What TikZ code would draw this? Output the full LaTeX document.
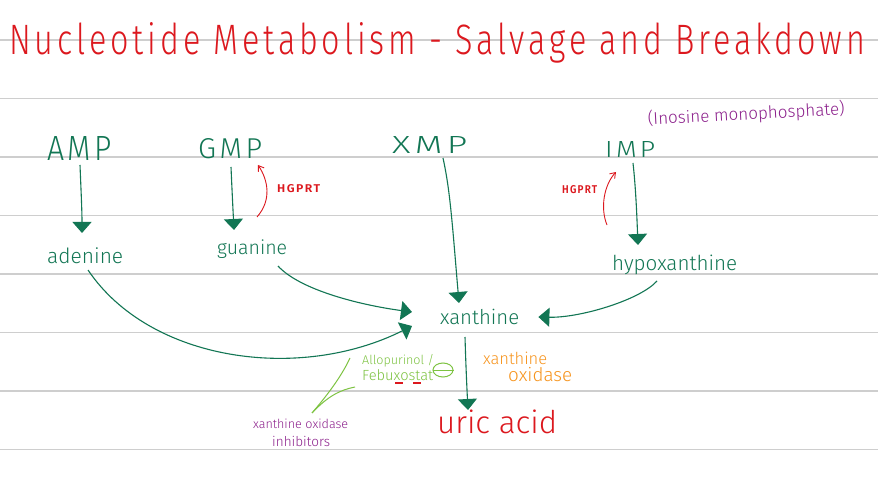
\documentclass[tikz,border=0pt]{standalone}
\usepackage{fontspec}
\setmainfont{Fira Sans}
\newfontfamily\hand{Fira Sans Light}[LetterSpace=12]
\newfontfamily\handl{Fira Sans Light}[LetterSpace=0]
\usetikzlibrary{arrows.meta,shapes.geometric}
\definecolor{ink}{RGB}{18,118,84}
\definecolor{redink}{RGB}{220,24,30}
\definecolor{purp}{RGB}{140,32,140}
\definecolor{lgreen}{RGB}{125,195,65}
\definecolor{orng}{RGB}{247,148,29}
\definecolor{rulegray}{RGB}{206,206,206}
\newcommand\fitw[2]{\resizebox{#1}{!}{\handl #2}}
\newcommand\fitwh[3]{\resizebox{#1}{#2}{\hand #3}}
\begin{document}
\begin{tikzpicture}[x=1pt,y=-1pt,
  lbl/.style={inner sep=0pt, anchor=base west},
  gl/.style={lbl, text=ink},
  garrow/.style={draw=ink, line width=1.1pt, -{Triangle[width=19pt,length=11pt]}},
  rarrow/.style={draw=redink, line width=0.9pt, -{Straight Barb[width=7pt,length=5pt]}},
  inh/.style={draw=lgreen, line width=1pt}]
\useasboundingbox[fill=white] (0,0) rectangle (878,497);
\foreach \yy in {40,98.5,157,215.5,274,332.5,391,449.5}
  \draw[rulegray, line width=1.6pt] (0,\yy) -- (878,\yy);

% title
\node[lbl, text=redink] (title) at (9,55) {\fitwh{856pt}{32pt}{Nucleotide Metabolism - Salvage and Breakdown}};

% nucleotides
\node[gl] (AMP) at (47,161) {\fitwh{65pt}{24pt}{AMP}};
\node[gl] (GMP) at (198,159) {\fitwh{64pt}{20pt}{GMP}};
\node[gl] (XMP) at (392,154) {\fitwh{75pt}{17pt}{XMP}};
\node[gl] (IMP) at (605,158) {\fitwh{50pt}{16pt}{IMP}};
\node[lbl, text=purp, rotate=3] (inosine) at (648,125) {\fitw{197pt}{(Inosine monophosphate)}};

% bases
\node[gl] (adenine) at (47,263) {\fitw{76pt}{adenine}};
\node[gl] (guanine) at (217,254) {\fitw{70pt}{guanine}};
\node[gl] (hypox) at (612,271) {\fitw{125pt}{hypoxanthine}};
\node[gl] (xanthine) at (440,324) {\fitw{79pt}{xanthine}};
\node[lbl, text=redink] (uric) at (437,433) {\fitw{120pt}{uric acid}};

% enzymes
\node[lbl, text=redink] (hgprtG) at (277,193) {\fitwh{43pt}{8pt}{\bfseries HGPRT}};
\node[lbl, text=redink] (hgprtI) at (562,194) {\fitwh{35pt}{8pt}{\bfseries HGPRT}};
\node[lbl, text=orng] (xo1) at (483,364) {\fitw{64pt}{xanthine}};
\node[lbl, text=orng] (xo2) at (508,381) {\fitw{64pt}{oxidase}};

% inhibitors
\node[lbl, text=lgreen] (allo) at (362,364) {\fitw{72pt}{Allopurinol /}};
\node[lbl, text=lgreen] (febu) at (362,380) {\fitw{71pt}{Febuxostat}};
\node[draw=lgreen, line width=1pt, ellipse, minimum width=20pt, minimum height=14pt, inner sep=0pt] (minus) at (443,370) {};
\draw[lgreen, line width=1pt] (minus.west) -- (minus.east);
\draw[redink, line width=1.2pt] (395,383) -- (403,383) (413,383) -- (421,383);
\node[lbl, text=purp] (xoi1) at (253,428) {\fitw{95pt}{xanthine oxidase}};
\node[lbl, text=purp] (xoi2) at (272,446) {\fitw{58pt}{inhibitors}};
\coordinate (vtx) at (312,413);
\draw[inh] (vtx) .. controls (330,392) and (342,375) .. ([shift={(-12pt,6pt)}]allo.base west);
\draw[inh] (vtx) .. controls (328,396) and (340,390) .. ([shift={(-7pt,-7pt)}]febu.base west);

% conversions
\draw[garrow] ([shift={(33pt,-4pt)}]AMP.base west) .. controls (81,190) and (82,210) .. ([shift={(35pt,30pt)}]adenine.base west);
\draw[garrow] ([shift={(33pt,-8pt)}]GMP.base west) .. controls (232,190) and (233,210) .. ([shift={(17pt,24pt)}]guanine.base west);
\draw[rarrow] ([shift={(40pt,37pt)}]guanine.base west) .. controls (272,200) and (268,180) .. ([shift={(60pt,-6pt)}]GMP.base west);
\draw[garrow] ([shift={(51pt,-4pt)}]XMP.base west) .. controls (450,190) and (452,220) .. ([shift={(19pt,21pt)}]xanthine.base west);
\draw[garrow] ([shift={(28pt,-5pt)}]IMP.base west) .. controls (636,190) and (637,220) .. ([shift={(26pt,26pt)}]hypox.base west);
\draw[rarrow] ([shift={(-5pt,46pt)}]hypox.base west) .. controls (600,208) and (604,185) .. ([shift={(11pt,-14pt)}]IMP.base west);

\draw[garrow] ([shift={(41pt,-7pt)}]adenine.base west) .. controls (150,362) and (300,382) .. ([shift={(-28pt,-2pt)}]xanthine.base west);
\draw[garrow] ([shift={(61pt,-12pt)}]guanine.base west) .. controls (300,290) and (360,305) .. ([shift={(-28pt,12pt)}]xanthine.base west);
\draw[garrow] ([shift={(45pt,-10pt)}]hypox.base west) .. controls (640,300) and (580,318) .. ([shift={(19pt,7pt)}]xanthine.base east);
\draw[garrow] ([shift={(25pt,-13pt)}]xanthine.base west) .. controls (466,370) and (467,390) .. ([shift={(31pt,23pt)}]uric.base west);
\end{tikzpicture}
\end{document}
